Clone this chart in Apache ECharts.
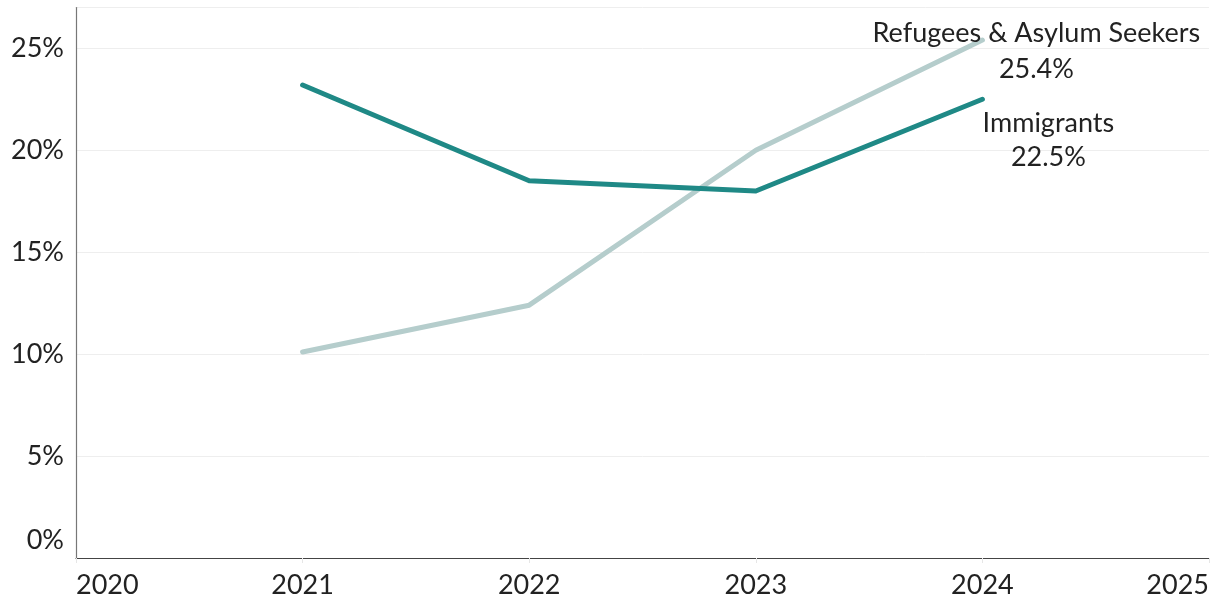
<!DOCTYPE html>
<html>
<head>
<meta charset="utf-8">
<style>
  html, body { margin: 0; padding: 0; background: #fff; }
  #chart { width: 1212px; height: 601px; }
</style>
<script src="https://cdn.jsdelivr.net/npm/echarts@6/dist/echarts.min.js"></script>
</head>
<body>
<div id="chart"></div>
<script>
// Share of each group, by year (percent)
const years = [2021, 2022, 2023, 2024];
const immigrants = [23.2, 18.5, 18.0, 22.5];
const refugees = [10.1, 12.4, 20.0, 25.4];
const seriesNames = ['Immigrants', 'Refugees & Asylum Seekers'];
const yTicks = [0, 5, 10, 15, 20, 25];
const xTicks = [2020, 2021, 2022, 2023, 2024, 2025];

const FONT = 'Lato, "Open Sans", sans-serif';
const FS = 27;

const pairs = (vals) => years.map((y, i) => [y, vals[i]]);

const chart = echarts.init(document.getElementById('chart'), null, { renderer: 'canvas' });

chart.setOption({
  animation: false,
  grid: { left: 76, right: 2, top: 7.5, bottom: 43, containLabel: false },
  xAxis: {
    type: 'value',
    min: xTicks[0],
    max: xTicks[xTicks.length - 1],
    interval: 1,
    axisLine: { show: true, lineStyle: { color: '#444', width: 1.2 } },
    axisTick: { show: true, length: 5, lineStyle: { color: '#e6e6e6' } },
    splitLine: { show: false },
    axisLabel: {
      color: '#222', fontFamily: FONT, fontSize: FS, margin: 14,
      alignMinLabel: 'left', alignMaxLabel: 'right',
      formatter: (v) => String(v)
    }
  },
  yAxis: {
    type: 'value',
    min: 0,
    max: 27,
    interval: 5,
    axisLine: { show: true, lineStyle: { color: '#777', width: 1.2 } },
    axisTick: { show: false },
    splitLine: { show: true, lineStyle: { color: '#eeeeee', width: 1 } },
    axisLabel: {
      color: '#222', fontFamily: FONT, fontSize: FS, margin: 12,
      formatter: (v) => yTicks.includes(v) ? (v === 0 ? '{zero|0%}' : v + '%') : '',
      rich: { zero: { fontFamily: FONT, fontSize: FS, color: '#222', padding: [0, 0, 36, 0] } }
    }
  },
  series: [
    {
      name: seriesNames[1],
      type: 'line',
      data: pairs(refugees),
      showSymbol: false,
      lineStyle: { color: '#b5cdcc', width: 5, cap: 'round', join: 'round' },
      endLabel: {
        show: true,
        formatter: () => seriesNames[1] + '\n' + refugees[refugees.length - 1].toFixed(1) + '%',
        fontFamily: FONT, fontSize: FS, color: '#222', lineHeight: 36,
        align: 'center', verticalAlign: 'middle', offset: [46, 11]
      },
      z: 2
    },
    {
      name: seriesNames[0],
      type: 'line',
      data: pairs(immigrants),
      showSymbol: false,
      lineStyle: { color: '#1f8986', width: 5, cap: 'round', join: 'round' },
      endLabel: {
        show: true,
        formatter: () => seriesNames[0] + '\n' + immigrants[immigrants.length - 1].toFixed(1) + '%',
        fontFamily: FONT, fontSize: FS, color: '#222', lineHeight: 34,
        align: 'center', verticalAlign: 'middle', offset: [58, 41]
      },
      z: 3
    }
  ]
});
</script>
</body>
</html>
